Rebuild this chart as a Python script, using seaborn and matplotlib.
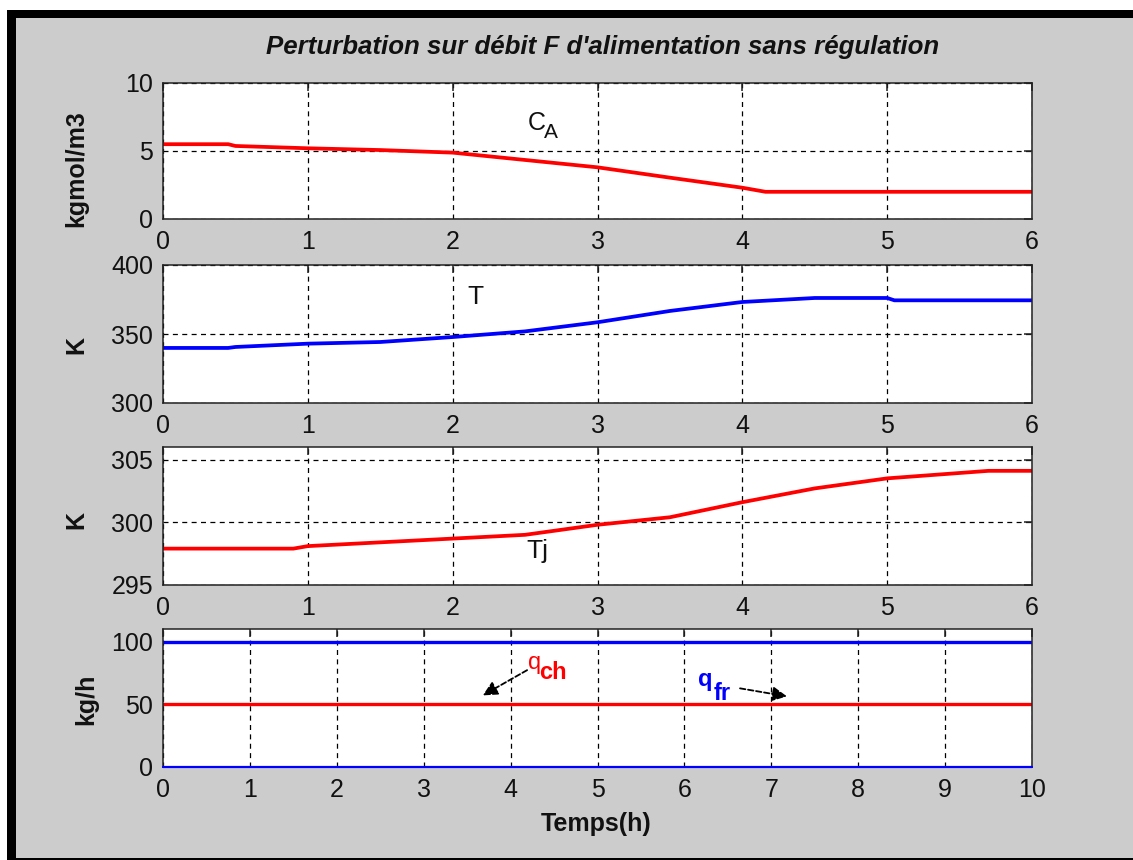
import matplotlib
matplotlib.use("Agg")
import matplotlib.pyplot as plt
from matplotlib.patches import Rectangle
import seaborn as sns

# --- Réponses du réacteur à une perturbation sur le débit d'alimentation ---
# Concentration de A (kgmol/m3)
t_ca = [0.0, 0.45, 0.5, 1.0, 1.5, 2.0, 2.5, 3.0, 3.5, 4.0, 4.16, 5.0, 6.0]
ca = [5.5, 5.5, 5.37, 5.2, 5.07, 4.88, 4.34, 3.8, 3.04, 2.3, 2.0, 2.0, 2.0]

# Température du réacteur (K)
t_T = [0.0, 0.45, 0.5, 1.0, 1.5, 2.0, 2.5, 3.0, 3.5, 4.0, 4.5, 5.0, 5.05, 6.0]
temp_T = [339.9, 339.9, 340.6, 343.0, 344.2, 347.8, 351.9, 358.5, 366.7, 373.2,
          376.1, 376.1, 374.4, 374.4]

# Température de la double enveloppe (K)
t_Tj = [0.0, 0.9, 1.0, 1.5, 2.0, 2.5, 3.0, 3.5, 4.0, 4.5, 5.0, 5.35, 5.7, 6.0]
temp_Tj = [297.9, 297.9, 298.1, 298.4, 298.7, 299.0, 299.8, 300.4, 301.6, 302.7,
           303.5, 303.8, 304.1, 304.1]

# Débits de fluide caloporteur (kg/h)
t_q = [0.0, 10.0]
q_fr = [100.0, 100.0]
q_ch = [50.0, 50.0]
q_base = [0.0, 0.0]

xticks_short = [0, 1, 2, 3, 4, 5, 6]
xticks_long = list(range(0, 11))
yticks_ca = [0, 5, 10]
yticks_T = [300, 350, 400]
yticks_Tj = [295, 300, 305]
yticks_q = [0, 50, 100]

title = "Perturbation sur débit F d'alimentation sans régulation"
xlabel = "Temps(h)"
ylabels = ["kgmol/m3", "K", "K", "kg/h"]

RED = "#ff0000"
BLUE = "#0000ff"
BG = "#cccccc"
INK = "#111111"

sns.set_style("white")
plt.rcParams["font.family"] = ["Liberation Sans", "DejaVu Sans"]

W, H = 1133, 860
fig = plt.figure(figsize=(W / 100, H / 100), dpi=100, facecolor="white")

# window frame
fig.patches.append(Rectangle((7 / W, 0), 1 - 7 / W, 1 - 10 / H,
                             transform=fig.transFigure, facecolor="black",
                             edgecolor="none", zorder=-3))
fig.patches.append(Rectangle((16 / W, 2.5 / H), 1 - 16 / W, 1 - 18 / H - 2.5 / H,
                             transform=fig.transFigure, facecolor=BG,
                             edgecolor="none", zorder=-2))


def px_axes(top, bottom, left=163, right=1032):
    return fig.add_axes([left / W, 1 - bottom / H, (right - left) / W,
                         (bottom - top) / H])


ax1 = px_axes(83, 219)
ax2 = px_axes(265, 403)
ax3 = px_axes(447, 585)
ax4 = px_axes(629, 767)
axes = [ax1, ax2, ax3, ax4]

LW = 2.7
sns.lineplot(x=t_ca, y=ca, ax=ax1, color=RED, lw=LW, estimator=None, sort=False)
sns.lineplot(x=t_T, y=temp_T, ax=ax2, color=BLUE, lw=LW, estimator=None, sort=False)
sns.lineplot(x=t_Tj, y=temp_Tj, ax=ax3, color=RED, lw=LW, estimator=None, sort=False)
sns.lineplot(x=t_q, y=q_fr, ax=ax4, color=BLUE, lw=2.4, estimator=None)
sns.lineplot(x=t_q, y=q_ch, ax=ax4, color=RED, lw=2.4, estimator=None)
base = sns.lineplot(x=t_q, y=q_base, ax=ax4, color=BLUE, lw=1.6, estimator=None)
base.lines[-1].set_clip_on(False)
base.lines[-1].set_zorder(5)

ax1.set(xlim=(0, 6), ylim=(0, 10), xticks=xticks_short, yticks=yticks_ca)
ax2.set(xlim=(0, 6), ylim=(300, 400), xticks=xticks_short, yticks=yticks_T)
ax3.set(xlim=(0, 6), ylim=(295, 306), xticks=xticks_short, yticks=yticks_Tj)
ax4.set(xlim=(0, 10), ylim=(0, 110), xticks=xticks_long, yticks=yticks_q)

for ax in axes:
    ax.set_facecolor("white")
    ax.set_xlabel("")
    ax.set_ylabel("")
    ax.grid(True, color="black", linestyle=(0, (4, 3.5)), linewidth=0.9)
    ax.set_axisbelow(True)
    for sp in ax.spines.values():
        sp.set_visible(True)
        sp.set_color("#222222")
        sp.set_linewidth(1.1)
    ax.tick_params(axis="both", direction="in", length=6, width=1.1,
                   color="#222222", top=True, right=True, labelsize=18,
                   labelcolor=INK)
    ax.tick_params(axis="x", pad=8)
    ax.tick_params(axis="y", pad=7)
    ax.set_xticklabels([str(v) for v in ax.get_xticks().astype(int)])
    ax.set_yticklabels([str(v) for v in ax.get_yticks().astype(int)])

# curve labels
ax1.text(2.52, 6.54, "C", fontsize=18, color=INK)
ax1.annotate("A", xy=(2.52, 6.54), xytext=(11.5, -5.8), textcoords="offset points",
             fontsize=15, color=INK)
ax2.text(2.105, 371.7, "T", fontsize=19, color=INK)
ax3.text(2.506, 297.16, "Tj", fontsize=19, color=INK)

# flow labels: main letter with a lowered, bold suffix
ax4.text(4.2, 78.5, "q", fontsize=17, color=RED)
ax4.annotate("ch", xy=(4.2, 78.5), xytext=(8.0, -7.2), textcoords="offset points",
             fontsize=17, color=RED, fontweight="bold")
ax4.text(6.16, 64.5, "q", fontsize=17, color=BLUE, fontweight="bold")
ax4.annotate("fr", xy=(6.16, 64.5), xytext=(10.8, -10.0), textcoords="offset points",
             fontsize=17, color=BLUE, fontweight="bold")

arrow = dict(arrowstyle="-|>", color="black", lw=1.3, linestyle=(0, (3, 1.5)),
             mutation_scale=22, shrinkA=0, shrinkB=0)
ax4.annotate("", xy=(3.68, 57.1), xytext=(4.19, 77.2), arrowprops=arrow)
ax4.annotate("", xy=(7.18, 56.3), xytext=(6.64, 62.7), arrowprops=arrow)

# titles and axis labels
fig.text(603 / W, 1 - 47 / H, title, ha="center", va="center", fontsize=18.6,
         fontweight="bold", fontstyle="italic", color=INK)
fig.text(596 / W, 1 - 824 / H, xlabel, ha="center", va="center", fontsize=18,
         fontweight="bold", color=INK)
ylab_pos = [(76, 169), (76, 344.5), (76, 520), (86, 699)]
for lab, (x, y) in zip(ylabels, ylab_pos):
    fig.text(x / W, 1 - y / H, lab, ha="center", va="center", rotation=90,
             fontsize=18, fontweight="bold", color=INK)

fig.savefig("out.png", dpi=100, facecolor=fig.get_facecolor())
